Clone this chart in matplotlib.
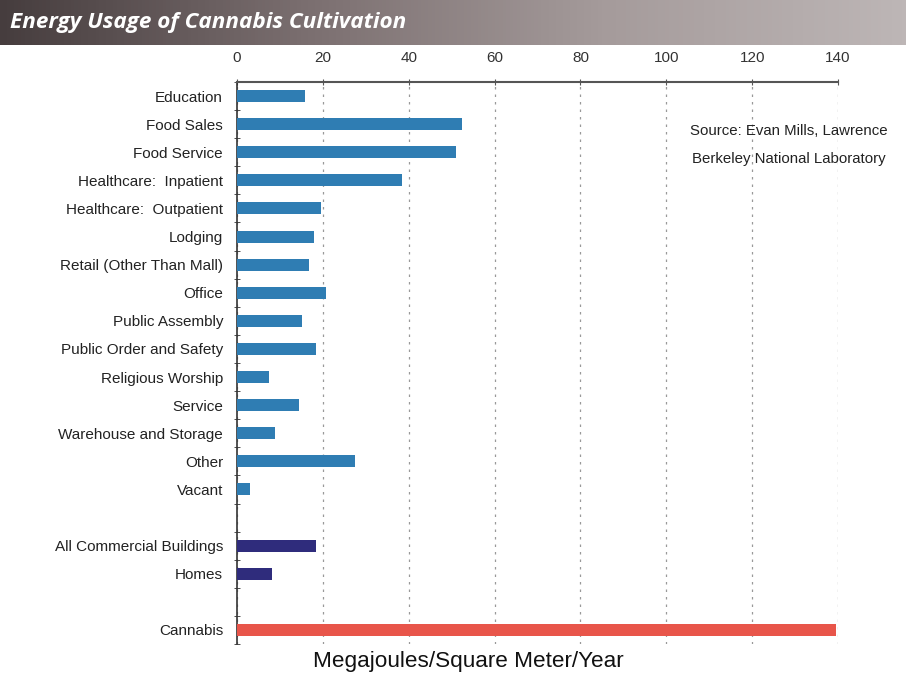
import numpy as np
import matplotlib.pyplot as plt
from matplotlib.colors import LinearSegmentedColormap

# 数据：各类建筑的能耗（兆焦/平方米/年）
categories = ["Education", "Food Sales", "Food Service", "Healthcare:  Inpatient",
              "Healthcare:  Outpatient", "Lodging", "Retail (Other Than Mall)", "Office",
              "Public Assembly", "Public Order and Safety", "Religious Worship", "Service",
              "Warehouse and Storage", "Other", "Vacant", "", "All Commercial Buildings",
              "Homes", "", "Cannabis"]
values = [15.8, 52.4, 51.0, 38.4, 19.6, 17.9, 16.8, 20.7, 15.1, 18.4,
          7.5, 14.4, 8.9, 27.5, 3.0, 0, 18.4, 8.2, 0, 139.5]
groups = ["b"] * 15 + ["-", "n", "n", "-", "r"]
xticks = [0, 20, 40, 60, 80, 100, 120, 140]

colors = {"b": "#2f7db3", "n": "#2f2c7c", "r": "#e8554a", "-": "none"}

plt.rcParams['font.family'] = ['Liberation Sans', 'DejaVu Sans']
fig = plt.figure(figsize=(9.06, 6.75), dpi=100)

# 顶部渐变标题栏
ban = fig.add_axes([0, 1 - 45 / 675, 1, 45 / 675])
grad = np.linspace(0, 1, 256).reshape(1, -1)
cm = LinearSegmentedColormap.from_list("ban", ["#463d3e", "#7a6e6f", "#a59b9b", "#bdb6b6"])
ban.imshow(grad, aspect="auto", cmap=cm, extent=[0, 1, 0, 1])
ban.set_axis_off()
ban.text(0.011, 0.5, "Energy Usage of Cannabis Cultivation", color="white",
         fontsize=16.2, fontweight="bold", fontstyle="italic", family=["Open Sans", "DejaVu Sans"],
         va="center", ha="left")

ax = fig.add_axes([237 / 906, 1 - 644 / 675, 601 / 906, (644 - 82) / 675])
y = np.arange(len(categories))
for i, (v, g) in enumerate(zip(values, groups)):
    if g == "-":
        continue
    ax.barh(y[i], v, height=0.43, color=colors[g], zorder=3)

ax.set_xlim(0, 140)
ax.set_ylim(len(categories) - 0.5, -0.5)
ax.xaxis.tick_top()
ax.set_xticks(xticks)
ax.set_xticklabels([str(t) for t in xticks], fontsize=11, color="#333333")
ax.tick_params(axis="x", length=4, direction="inout", color="#555555", pad=10)
ax.set_yticks(y)
ax.set_yticklabels(categories, fontsize=11, color="#222222")
ax.tick_params(axis="y", length=0, pad=10)
ax.set_yticks(np.arange(-0.5, len(categories), 1), minor=True)
ax.tick_params(axis="y", which="minor", length=5, color="#333333", direction="inout")
ax.grid(axis="x", linestyle=(0, (2, 4)), color="#999999", linewidth=0.9, zorder=0)
for s in ["right", "bottom"]:
    ax.spines[s].set_visible(False)
ax.spines["left"].set_color("#333333")
ax.spines["top"].set_color("#555555")
ax.spines["left"].set_linewidth(1.2)
ax.spines["top"].set_linewidth(1.5)

fig.text(789 / 906, 1 - 131 / 675, "Source: Evan Mills, Lawrence",
         ha="center", va="center", fontsize=10.8, color="#222222")
fig.text(789 / 906, 1 - 159 / 675, "Berkeley National Laboratory",
         ha="center", va="center", fontsize=10.8, color="#222222")

fig.text(468 / 906, 1 - 661 / 675, "Megajoules/Square Meter/Year", ha="center", va="center",
         fontsize=16.2, color="#111111")

fig.savefig("out.png", dpi=100)
